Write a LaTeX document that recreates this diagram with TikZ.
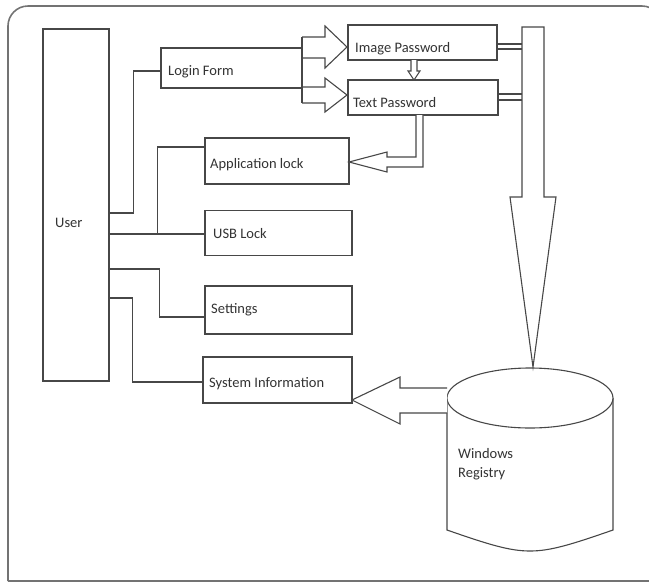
\documentclass[tikz,border=0pt]{standalone}
\usepackage{fontspec}
\setmainfont{Carlito}
\usetikzlibrary{calc}
\begin{document}
\begin{tikzpicture}[x=1pt,y=-1pt,
  ln/.style={draw=black!72,line width=1.1pt},
  box/.style={ln,fill=white,rectangle,inner sep=0pt},
  lbl/.style={anchor=base west,inner sep=0pt,text=black!80,font=\fontsize{14.5}{20}\selectfont},
  conn/.style={ln},
  blk/.style={ln,fill=white,line join=miter}]
\useasboundingbox (0,0) rectangle (649,582);
\begin{scope}
\clip (0,0) rectangle (649,582);
\draw[draw=black!55,line width=1.6pt] (8,581) -- (8,300) [rounded corners=20pt] -- (8,6) -- (662,6) -- (662,60);
\draw[draw=black!55,line width=1.6pt] (8,581) -- (662,581);
\end{scope}

% boxes
\node[box,minimum width=66pt,minimum height=352pt] (user) at (76,205) {};
\node[box,minimum width=141pt,minimum height=40pt] (login) at (231.5,68) {};
\node[box,minimum width=149pt,minimum height=35pt] (img) at (422.5,42.5) {};
\node[box,minimum width=150pt,minimum height=35pt] (txt) at (423,97.5) {};
\node[box,minimum width=144pt,minimum height=46pt] (app) at (277,161) {};
\node[box,minimum width=147pt,minimum height=45pt] (usb) at (278.5,233) {};
\node[box,minimum width=147pt,minimum height=48pt] (set) at (278.5,310) {};
\node[box,minimum width=149pt,minimum height=46pt] (sys) at (277.5,380) {};

% cylinder
\draw[ln,fill=white] (447,398) -- (447,530) .. controls (490,545) and (510,551) .. (530,551) .. controls (550,551) and (570,545) .. (613,530) -- (613,398);
\draw[ln,fill=white] (530,398) ellipse [x radius=83pt, y radius=30pt];
\node[inner sep=0pt,minimum width=166pt,minimum height=183pt] (reg) at (530,459.5) {};

% elbow connectors from User
\draw[conn] ($(user.east)+(0,8)$) -| ($(login.west)+(-27,3)$) -- ($(login.west)+(0,3)$);
\draw[conn] ($(user.east |- usb.west)+(0,1)$) -- ($(usb.west)+(0,1)$);
\draw[conn] ($(usb.west)+(-47,1)$) |- ($(app.west)+(0,-14)$);
\draw[conn] ($(user.east)+(0,64)$) -| ($(set.west)+(-45,7)$) -- ($(set.west)+(0,7)$);
\draw[conn] ($(user.east)+(0,93)$) -| ($(sys.west)+(-70,2)$) -- ($(sys.west)+(0,2)$);

% block arrows Login Form -> passwords
\draw[blk] (302,37) -- (325,37) -- (325,26) -- (347,47) -- (325,68) -- (325,58) -- (302,58);
\draw[blk] (302,87) -- (325,87) -- (325,78) -- (347,95) -- (325,112) -- (325,103) -- (302,103);
\draw[conn] (302,37) -- (302,103);
% Image Password -> Text Password
\draw[blk] (411,60) -- (411,71) -- (408,71) -- (414,80) -- (420,71) -- (417,71) -- (417,60);
% Text Password -> Application lock
\draw[blk] (416,115) -- (416,157) -- (387,157) -- (387,152) -- (349,162) -- (387,172) -- (387,167) -- (423,167) -- (423,115);
% passwords -> registry
\draw[conn] ($(img.east)+(0,1.5)$) -- (522,44);
\draw[conn] ($(img.east)+(0,6.5)$) -- (522,49);
\draw[conn] ($(txt.east)+(0,-3.5)$) -- (522,94);
\draw[conn] ($(txt.east)+(0,2.5)$) -- (522,100);
\draw[blk] (522,27) -- (544,27) -- (544,197) -- (556,197) -- (533,367) -- (510,197) -- (522,197) -- cycle;
% registry -> System Information
\draw[blk] (447,388) -- (400,388) -- (400,377) -- (352,400) -- (400,424) -- (400,413) -- (447,413);

% labels
\node[lbl] (tuser) at (55,227) {User};
\node[lbl] (tlogin) at (168,75) {Login Form};
\node[lbl] (timg) at (355,52) {Image Password};
\node[lbl] (ttxt) at (353,107) {Text Password};
\node[lbl] (tapp) at (210,168) {Application lock};
\node[lbl] (tusb) at (213,238) {USB Lock};
\node[lbl] (tset) at (211,313) {Settings};
\node[lbl] (tsys) at (209,387) {System Information};
\node[lbl] (treg1) at (458,458) {Windows};
\node[lbl] (treg2) at (458,477) {Registry};
\end{tikzpicture}
\end{document}
